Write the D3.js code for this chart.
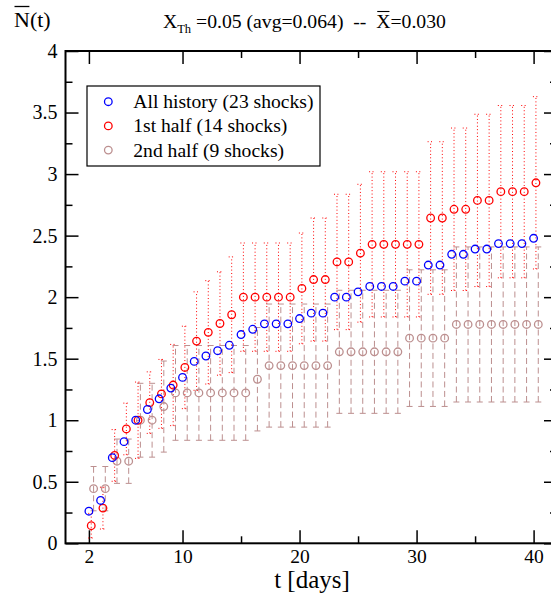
<!DOCTYPE html>
<html><head><meta charset="utf-8">
<script src="https://cdn.jsdelivr.net/npm/d3@7"></script>
<style>
body{margin:0;background:#fff}
svg text{font-family:'Liberation Serif','Tinos','Times New Roman',Times,'DejaVu Serif','Noto Serif',serif !important;fill:#000}
</style>
</head><body><svg id="c" width="551" height="596"></svg>
<script>
// ---- data ----
const days = [2,3,4,5,6,7,8,9,10,11,12,13,14,15,16,17,18,19,20,21,22,23,24,25,26,27,28,29,30,31,32,33,34,35,36,37,38,39,40];
const allHistory = [0.261,0.348,0.696,0.826,1.000,1.087,1.174,1.261,1.348,1.478,1.522,1.565,1.609,1.696,1.739,1.783,1.783,1.783,1.826,1.870,1.870,2.000,2.000,2.043,2.087,2.087,2.087,2.130,2.130,2.261,2.261,2.348,2.348,2.391,2.391,2.435,2.435,2.435,2.478];
const firstHalf = [0.143,0.286,0.714,0.929,1.000,1.143,1.214,1.286,1.429,1.643,1.714,1.786,1.857,2.000,2.000,2.000,2.000,2.000,2.071,2.143,2.143,2.286,2.286,2.357,2.429,2.429,2.429,2.429,2.429,2.643,2.643,2.714,2.714,2.786,2.786,2.857,2.857,2.857,2.929];
const firstHalfErr = [0.10,0.17,0.21,0.21,0.31,0.25,0.28,0.33,0.335,0.40,0.42,0.42,0.47,0.44,0.44,0.44,0.44,0.44,0.45,0.50,0.50,0.55,0.55,0.56,0.59,0.59,0.59,0.59,0.59,0.62,0.62,0.66,0.66,0.70,0.70,0.70,0.70,0.70,0.70];
const secondHalf = [0.444,0.444,0.667,0.667,1.000,1.000,1.111,1.222,1.222,1.222,1.222,1.222,1.222,1.222,1.333,1.444,1.444,1.444,1.444,1.444,1.444,1.556,1.556,1.556,1.556,1.556,1.556,1.667,1.667,1.667,1.667,1.778,1.778,1.778,1.778,1.778,1.778,1.778,1.778];
const secondHalfErr = [0.18,0.18,0.18,0.18,0.30,0.30,0.37,0.385,0.385,0.385,0.385,0.385,0.385,0.385,0.42,0.50,0.50,0.50,0.50,0.50,0.50,0.50,0.50,0.50,0.50,0.50,0.50,0.555,0.555,0.555,0.555,0.63,0.63,0.63,0.63,0.63,0.63,0.63,0.63];
const seriesNames = ["All history (23 shocks)","1st half (14 shocks)","2nd half (9 shocks)"];
const xMajorTicks = [2,10,20,30,40];
const xMinorTicks = [15,25,35];
const yMajorTicks = [0,0.5,1,1.5,2,2.5,3,3.5,4];
const yMinorTicks = [0.25,0.75,1.25,1.75,2.25,2.75,3.25,3.75];
const yTickLabels = ["0","0.5","1","1.5","2","2.5","3","3.5","4"];

// ---- layout ----
const L = 65.5, R = 557, T = 51, B = 543.3;
const BLUE = "#0000ff", RED = "#ff0000", BROWN = "#bc8f8f";
const FONT = "'Liberation Serif','Tinos','Times New Roman',Times,'DejaVu Serif','Noto Serif',serif";
const svg = d3.select("#c");
const x = d3.scaleLinear().domain([0,42]).range([L,R]);
const y = d3.scaleLinear().domain([0,4]).range([B,T]);

// ---- axes ----
function styleAxis(g){ g.attr("font-family",FONT); g.select(".domain").remove(); g.selectAll(".tick line").attr("stroke","#000").attr("stroke-width",1.5); }
svg.append("g").attr("transform",`translate(0,${B})`)
  .call(d3.axisBottom(x).tickValues(xMajorTicks).tickSizeInner(-13).tickSizeOuter(0).tickPadding(6).tickFormat(d3.format("d")))
  .call(styleAxis).call(g=>g.selectAll("text").attr("font-size",19.5).attr("fill","#000"));
svg.append("g").attr("transform",`translate(0,${B})`)
  .call(d3.axisBottom(x).tickValues(xMinorTicks).tickSizeInner(-7).tickSizeOuter(0).tickFormat(""))
  .call(styleAxis);
svg.append("g").attr("transform",`translate(0,${T})`)
  .call(d3.axisTop(x).tickValues(xMajorTicks).tickSizeInner(-13).tickSizeOuter(0).tickFormat(""))
  .call(styleAxis);
svg.append("g").attr("transform",`translate(0,${T})`)
  .call(d3.axisTop(x).tickValues(xMinorTicks).tickSizeInner(-7).tickSizeOuter(0).tickFormat(""))
  .call(styleAxis);
svg.append("g").attr("transform",`translate(${L},0)`)
  .call(d3.axisLeft(y).tickValues(yMajorTicks).tickSizeInner(-13).tickSizeOuter(0).tickPadding(8).tickFormat((d,i)=>yTickLabels[i]))
  .call(styleAxis).call(g=>g.selectAll("text").attr("font-size",20).attr("fill","#000"));
svg.append("g").attr("transform",`translate(${L},0)`)
  .call(d3.axisLeft(y).tickValues(yMinorTicks).tickSizeInner(-7).tickSizeOuter(0).tickFormat(""))
  .call(styleAxis);
svg.append("g").attr("transform",`translate(${R},0)`)
  .call(d3.axisRight(y).tickValues(yMajorTicks).tickSizeInner(-13).tickSizeOuter(0).tickFormat(""))
  .call(styleAxis);
svg.append("g").attr("transform",`translate(${R},0)`)
  .call(d3.axisRight(y).tickValues(yMinorTicks).tickSizeInner(-7).tickSizeOuter(0).tickFormat(""))
  .call(styleAxis);
svg.append("rect").attr("x",L).attr("y",T).attr("width",R-L).attr("height",B-T)
  .attr("fill","none").attr("stroke","#000").attr("stroke-width",2);

// ---- error bars ----
function errorBars(vals, errs, off, color, dash){
  const g = svg.append("g").attr("stroke",color).attr("stroke-width",1).attr("stroke-dasharray",dash).attr("fill","none");
  days.forEach((d,i)=>{
    const cx = x(d+off), lo = y(Math.max(0,vals[i]-errs[i])), hi = y(vals[i]+errs[i]);
    g.append("line").attr("x1",cx).attr("x2",cx).attr("y1",lo).attr("y2",hi);
    g.append("line").attr("x1",cx-3).attr("x2",cx+3).attr("y1",lo).attr("y2",lo);
    g.append("line").attr("x1",cx-3).attr("x2",cx+3).attr("y1",hi).attr("y2",hi);
  });
}
errorBars(secondHalf, secondHalfErr, 0.4, BROWN, "6,3.5");
errorBars(firstHalf, firstHalfErr, 0.2, RED, "1,2.4");

function circles(vals, off, color){
  svg.append("g").selectAll("circle").data(days).join("circle")
    .attr("cx",(d)=>x(d+off)).attr("cy",(d,i)=>y(vals[i])).attr("r",3.8)
    .attr("fill","none").attr("stroke",color).attr("stroke-width",1.3);
}
circles(secondHalf, 0.4, BROWN);
circles(firstHalf, 0.2, RED);
circles(allHistory, 0, BLUE);

// ---- legend ----
const lg = svg.append("g");
lg.append("rect").attr("x",87).attr("y",86).attr("width",233).attr("height",80)
  .attr("fill","#fff").attr("stroke","#000").attr("stroke-width",1.2);
[BLUE,RED,BROWN].forEach((c,i)=>{
  const yy = 101.7 + i*24.2;
  lg.append("circle").attr("cx",108.3).attr("cy",yy).attr("r",3.8).attr("fill","none").attr("stroke",c).attr("stroke-width",1.3);
  lg.append("text").attr("x",133.3).attr("y",yy+6.5).attr("font-size",19.6).text(seriesNames[i]);
});

// ---- title ----
const title = svg.append("text").attr("x",163).attr("y",28).attr("font-size",19.7).style("white-space","pre");
title.append("tspan").text("X");
title.append("tspan").attr("font-size",12.5).attr("dy",5).text("Th");
title.append("tspan").attr("dy",-5).text(" =0.05 (avg=0.064)  --  ");
title.append("tspan").text("X");
title.append("tspan").text("=0.030");
{
  const n = title.node();
  const txt = n.textContent;
  const idx = txt.lastIndexOf("X");
  const s = n.getStartPositionOfChar(idx), e = n.getEndPositionOfChar(idx);
  svg.append("line").attr("x1",s.x+1).attr("x2",e.x-1).attr("y1",11.5).attr("y2",11.5).attr("stroke","#000").attr("stroke-width",1.1);
}
// y label
const yl = svg.append("text").attr("x",14).attr("y",27).attr("font-size",22).text("N(t)");
{
  const n = yl.node();
  const s = n.getStartPositionOfChar(0), e = n.getEndPositionOfChar(0);
  svg.append("line").attr("x1",s.x+0.5).attr("x2",e.x-0.5).attr("y1",6.5).attr("y2",6.5).attr("stroke","#000").attr("stroke-width",1.3);
}
// x label
svg.append("text").attr("x",312).attr("y",587.5).attr("text-anchor","middle").attr("font-size",25).text("t [days]");
</script></body></html>
